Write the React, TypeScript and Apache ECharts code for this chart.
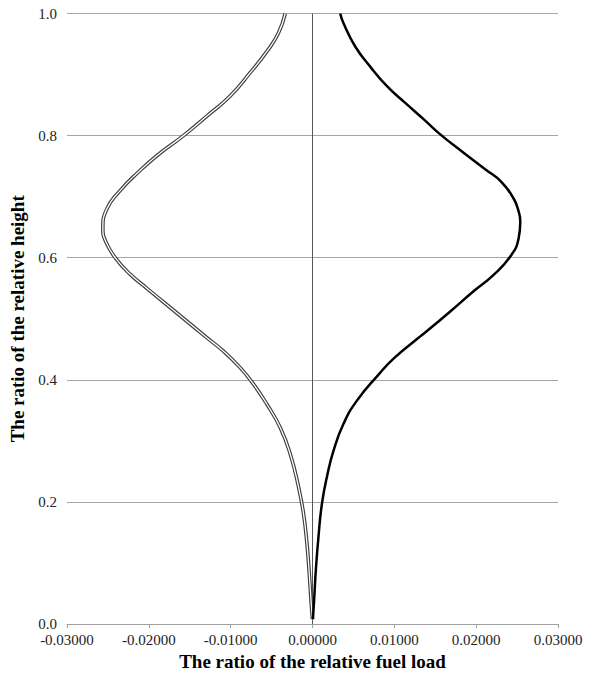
import React, { useEffect, useRef } from "react";
import * as echarts from "echarts";

// Left curve (double line): relative height vs ratio of relative fuel load
const leftHeights = [0.008, 0.035, 0.078, 0.132, 0.181, 0.225, 0.279, 0.322, 0.36, 0.393, 0.42, 0.447, 0.469, 0.496, 0.523, 0.55, 0.572, 0.599, 0.626, 0.648, 0.68, 0.71, 0.74, 0.767, 0.8, 0.832, 0.865, 0.903, 0.938, 0.968, 1.0];
const leftLoads = [0.0, -0.00016, -0.00037, -0.00068, -0.0011, -0.00171, -0.00273, -0.00395, -0.00557, -0.00721, -0.00884, -0.01088, -0.01291, -0.01535, -0.0178, -0.02024, -0.0222, -0.02405, -0.02525, -0.02562, -0.02513, -0.02351, -0.0213, -0.01902, -0.01577, -0.01291, -0.01006, -0.00762, -0.00557, -0.00416, -0.00334];

// Right curve (thick black line)
const rightHeights = [0.008, 0.04, 0.089, 0.143, 0.197, 0.241, 0.284, 0.328, 0.366, 0.409, 0.436, 0.469, 0.48, 0.512, 0.545, 0.572, 0.602, 0.631, 0.659, 0.68, 0.697, 0.724, 0.745, 0.772, 0.802, 0.827, 0.854, 0.881, 0.913, 0.946, 0.984, 1.0];
const rightLoads = [0.00005, 0.0002, 0.00041, 0.00073, 0.00115, 0.00176, 0.00257, 0.00379, 0.00543, 0.0081, 0.01, 0.01296, 0.01399, 0.01683, 0.01968, 0.02213, 0.02417, 0.02518, 0.02539, 0.0251, 0.02457, 0.0231, 0.0211, 0.01846, 0.01561, 0.01357, 0.0113, 0.0091, 0.00705, 0.00522, 0.00379, 0.00339];

const xMin = -0.03;
const xMax = 0.03;
const xStep = 0.01;
const yMin = 0;
const yMax = 1;
const yStep = 0.2;

const xTitle = "The ratio of the relative fuel load";
const yTitle = "The ratio of the relative height";

const FONT = "Liberation Serif";

export default function App() {
  const ref = useRef<HTMLDivElement>(null);

  useEffect(() => {
    if (!ref.current) return;
    const chart = echarts.init(ref.current, null, { renderer: "svg" });
    const left = leftHeights.map((h, i) => [leftLoads[i], h]);
    const right = rightHeights.map((h, i) => [rightLoads[i], h]);

    chart.setOption({
      animation: false,
      backgroundColor: "#ffffff",
      textStyle: { fontFamily: FONT },
      grid: { left: 67, right: 31, top: 13.5, bottom: 48, containLabel: false },
      xAxis: {
        type: "value",
        min: xMin,
        max: xMax,
        interval: xStep,
        name: xTitle,
        nameLocation: "middle",
        nameGap: 26,
        nameTextStyle: { fontFamily: FONT, fontWeight: "bold", fontSize: 19, color: "#000" },
        axisLine: { show: true, onZero: false, lineStyle: { color: "#a0a0a0", width: 1 } },
        axisTick: { show: true, length: 4, lineStyle: { color: "#a0a0a0" } },
        splitLine: { show: false },
        axisLabel: {
          fontFamily: FONT,
          fontSize: 15,
          color: "#222",
          margin: 8,
          formatter: (v: number) => (Math.abs(v) < 1e-9 ? "0.00000" : v.toFixed(5)),
        },
      },
      yAxis: {
        type: "value",
        min: yMin,
        max: yMax,
        interval: yStep,
        name: yTitle,
        nameLocation: "middle",
        nameGap: 37,
        nameTextStyle: { fontFamily: FONT, fontWeight: "bold", fontSize: 19, color: "#000" },
        axisLine: { show: false },
        axisTick: { show: false },
        splitLine: { show: true, lineStyle: { color: "#a6a6a6", width: 1 } },
        axisLabel: {
          fontFamily: FONT,
          fontSize: 15,
          color: "#222",
          margin: 10,
          formatter: (v: number) => v.toFixed(1),
        },
      },
      series: [
        {
          type: "line",
          data: left,
          showSymbol: false,
          symbol: "none",
          smooth: 0.5,
          lineStyle: { color: "#3c3c3c", width: 3.6 },
          z: 3,
          markLine: {
            silent: true,
            symbol: "none",
            label: { show: false },
            lineStyle: { color: "#555", width: 1, type: "solid" },
            data: [{ xAxis: 0 }],
            z: 2,
          },
        },
        {
          type: "line",
          data: left,
          showSymbol: false,
          symbol: "none",
          smooth: 0.5,
          lineStyle: { color: "#ffffff", width: 1.3 },
          z: 4,
        },
        {
          type: "line",
          data: right,
          showSymbol: false,
          symbol: "none",
          smooth: 0.5,
          lineStyle: { color: "#000000", width: 2.5 },
          z: 5,
        },
      ],
    });
    return () => chart.dispose();
  }, []);

  return (
    <div
      ref={ref}
      style={{ position: "fixed", left: 0, top: 0, width: 589, height: 676, background: "#fff" }}
    />
  );
}
